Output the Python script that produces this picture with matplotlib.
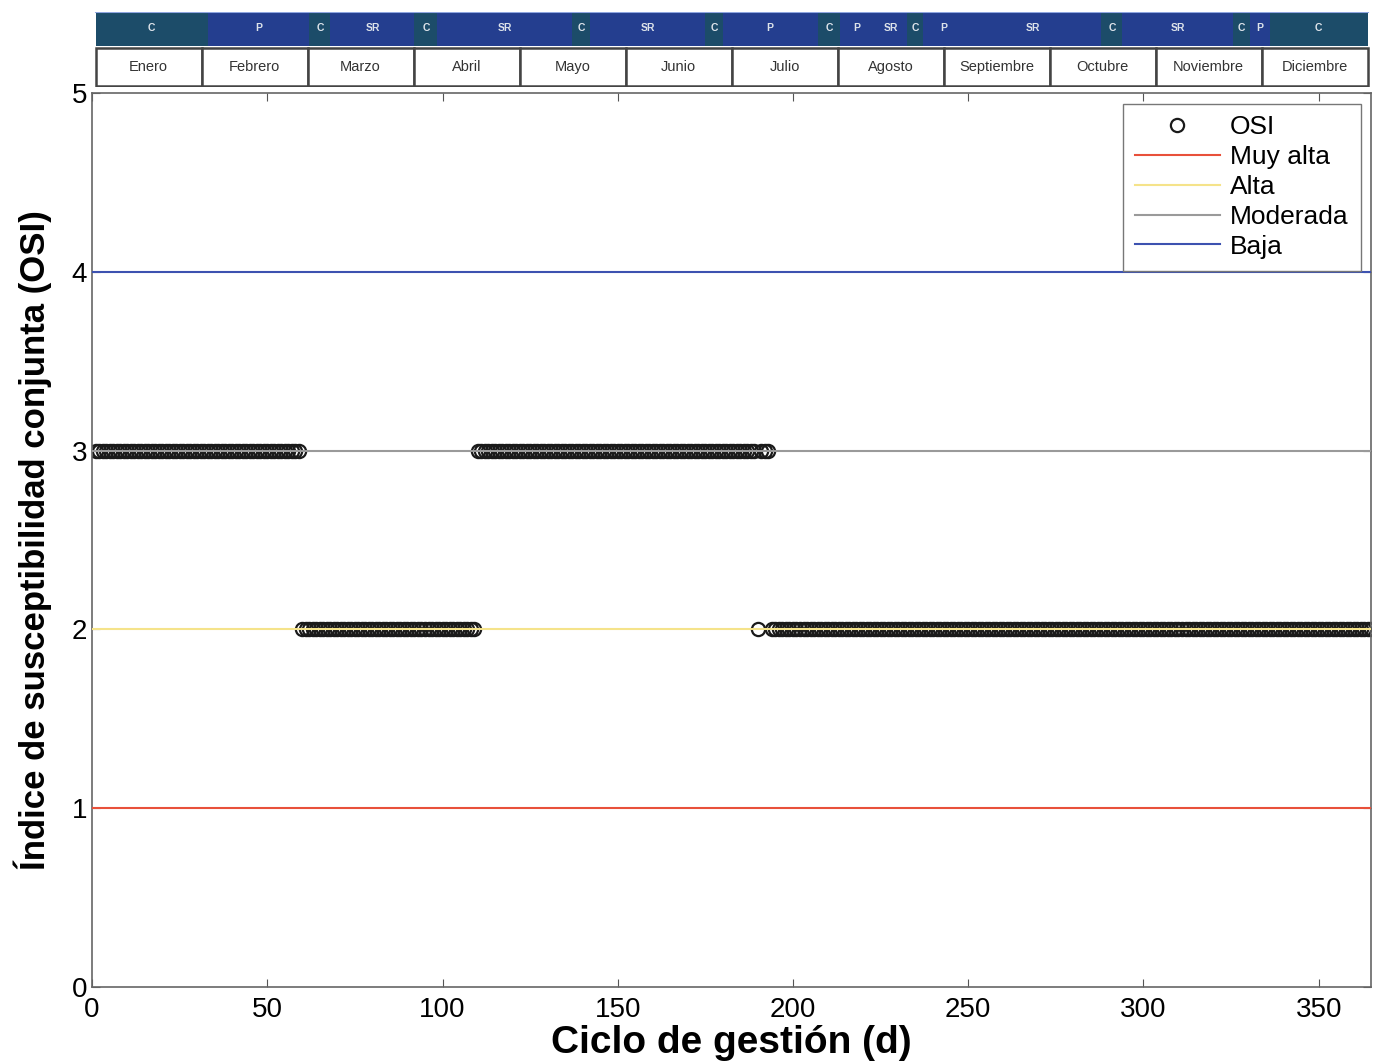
import matplotlib.pyplot as plt
import numpy as np

plt.rcParams['font.family'] = ['Liberation Sans', 'DejaVu Sans']

# OSI per day, read as runs of constant value
run_values = [3, 2, 3, 2, 3, 2]
run_lengths = [59, 50, 80, 1, 3, 172]

# risk thresholds
level_names = ['Muy alta', 'Alta', 'Moderada', 'Baja']
level_values = [1, 2, 3, 4]
level_colors = ['#e8503a', '#f5e38a', '#9a9a9a', '#3d52b0']

# management phases across the year (day boundaries)
phase_edges = [1, 33, 62, 68, 92, 98.5, 137, 142, 175, 180, 207, 213.5, 223,
               232.6, 237, 249, 288, 294, 325.6, 330.5, 336, 364]
phase_labels = ['C', 'P', 'C', 'SR', 'C', 'SR', 'C', 'SR', 'C', 'P', 'C', 'P',
                'SR', 'C', 'P', 'SR', 'C', 'SR', 'C', 'P', 'C']
months = ['Enero', 'Febrero', 'Marzo', 'Abril', 'Mayo', 'Junio', 'Julio',
          'Agosto', 'Septiembre', 'Octubre', 'Noviembre', 'Diciembre']

days = np.arange(1, sum(run_lengths) + 1)
osi = np.repeat(run_values, run_lengths)

fig = plt.figure(figsize=(13.74, 10.63), dpi=100)
ax = fig.add_axes([0.067, 0.0715, 0.931, 0.841])

ax.plot(days, osi, 'o', ms=9.5, mfc='none', mec='#1a1a1a', mew=1.6, label='OSI', zorder=2)
for name, val, col in zip(level_names, level_values, level_colors):
    ax.plot([0, 365], [val, val], color=col, lw=1.5, label=name, zorder=3)

ax.set_xlim(0, 365)
ax.set_ylim(0, 5)
ax.set_xticks(np.arange(0, 351, 50))
ax.set_yticks(np.arange(0, 6, 1))
ax.tick_params(direction='in', top=True, right=True, labelsize=20, length=6, color='#555555')
ax.tick_params(axis='x', pad=7)
for s in ax.spines.values():
    s.set_color('#666666')
    s.set_linewidth(1.2)
ax.set_xlabel('Ciclo de gestión (d)', fontsize=28, fontweight='bold', labelpad=2)
ax.set_ylabel('Índice de susceptibilidad conjunta (OSI)', fontsize=25, fontweight='bold', labelpad=14)

leg = ax.legend(loc='upper right', fontsize=19, handlelength=3.2, labelspacing=0.22,
                borderaxespad=0.4, fancybox=False, framealpha=1, handletextpad=0.4,
                borderpad=0.45)
leg.get_frame().set_edgecolor('#777777')

# header band with phases and months
hx = fig.add_axes([0.067, 0.918, 0.931, 0.071])
hx.set_xlim(0, 365)
hx.set_ylim(0, 1)
hx.axis('off')
for i, lab in enumerate(phase_labels):
    x0, x1 = phase_edges[i], phase_edges[i + 1]
    fc = '#1c4c69' if lab == 'C' else '#243e8f'
    hx.axvspan(x0, x1, ymin=0.55, ymax=1.0, color=fc, lw=0)
    hx.text((x0 + x1) / 2, 0.79, lab, ha='center', va='center', color='#dde3ea',
            fontsize=7.5, fontweight='bold')
hx.plot([phase_edges[0], phase_edges[-1]], [0.99, 0.99], color='#8fa6e0', lw=1.5)
mw = (phase_edges[-1] - phase_edges[0]) / len(months)
for i, m in enumerate(months):
    x0 = phase_edges[0] + i * mw
    hx.add_patch(plt.Rectangle((x0, 0.02), mw, 0.5, fc='white', ec='#444444', lw=1.8))
    hx.text(x0 + mw / 2, 0.27, m, ha='center', va='center', color='#333333', fontsize=10.5)

fig.savefig('out.png', dpi=100)
